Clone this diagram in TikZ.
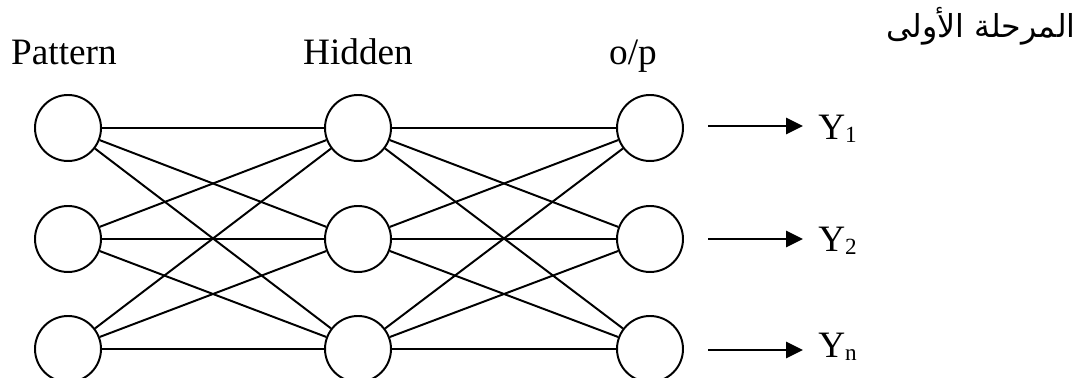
\documentclass[tikz,border=0pt]{standalone}
\usepackage{fontspec}
\setmainfont{Liberation Serif}
\newfontfamily\arabicfont[Script=Arabic]{DejaVu Sans}
\TeXXeTstate=1
\usetikzlibrary{arrows.meta}

\begin{document}
\begin{tikzpicture}[>={Triangle[length=0.42cm,width=0.4cm]},
    font=\fontsize{26.5}{30}\selectfont,
    neurone/.style={circle, draw, line width=1.4pt, minimum size=1.65cm, inner sep=0pt}]
    \clip (0,0) rectangle (27.05,9.45);

     % Titoli degli strati
    \node[anchor=base] (tpat) at (1.6,7.825) {Pattern};
    \node[anchor=base] (thid) at (8.95,7.825) {Hidden};
    \node[anchor=base] (tout) at (15.825,7.825) {o/p};
    \node[anchor=base east, inner sep=0pt] (fase) at (26.9,8.5)
        {\arabicfont\fontsize{22.5}{26}\selectfont\beginR المرحلة الأولى\endR};

     % Disegna i neuroni
    \foreach \i/\y in {1/6.25, 2/3.475, 3/0.725} {
        \node[neurone] (p\i) at (1.7,\y) {};
        \node[neurone] (h\i) at (8.95,\y) {};
        \node[neurone] (o\i) at (16.25,\y) {};
    }

     % Collegamenti tra gli strati
    \foreach \i in {1,2,3} {
        \foreach \j in {1,2,3} {
            \draw[line width=1.4pt] (p\i) -- (h\j);
            \draw[line width=1.4pt] (h\i) -- (o\j);
        }
    }

     % Uscite
    \foreach \i/\ya/\yb/\k in {1/6.3/5.95/1, 2/3.475/3.15/2, 3/0.7/0.5/n} {
        \coordinate (s\i) at (17.7,\ya);
        \node[anchor=base west, inner xsep=0.375cm, inner ysep=0pt] (y\i) at (20.075,\yb)
            {Y\raisebox{-0.08em}{\fontsize{16.5}{18}\selectfont \k}};
        \draw[->, line width=1.5pt] (s\i) -- (s\i -| y\i.west);
    }
\end{tikzpicture}
\end{document}
